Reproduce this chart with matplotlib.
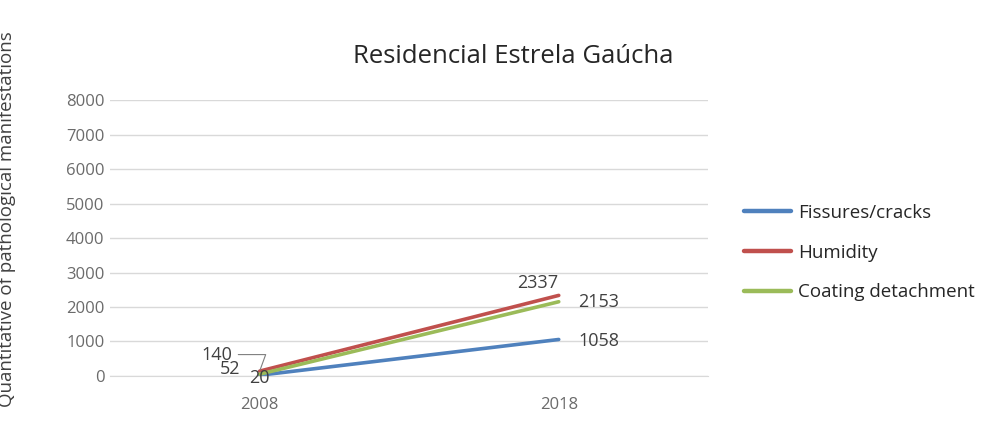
import numpy as np
import matplotlib
matplotlib.use("Agg")
import matplotlib.pyplot as plt

years = ["2008", "2018"]
fissures = [20, 1058]
humidity = [140, 2337]
coating = [52, 2153]
series_names = ["Fissures/cracks", "Humidity", "Coating detachment"]
colors = ["#4F81BD", "#C0504D", "#9BBB59"]
yticks = [0, 1000, 2000, 3000, 4000, 5000, 6000, 7000, 8000]

plt.rcParams['font.family'] = ['Open Sans', 'DejaVu Sans']

fig = plt.figure(figsize=(9.92, 4.21), dpi=100)
ax = fig.add_axes([0.111, 0.107, 0.603, 0.655])

x = np.arange(len(years))
for vals, name, c in zip([fissures, humidity, coating], series_names, colors):
    ax.plot(x, vals, color=c, lw=2.6, label=name, solid_capstyle='round')

ax.set_xlim(-0.5, 1.5)
ax.set_ylim(0, 8000)
ax.set_yticks(yticks)
ax.set_xticks(x)
ax.set_xticklabels(years)
ax.tick_params(axis='both', length=0, labelsize=12, labelcolor='#6b6b6b')
ax.tick_params(axis='y', pad=4)
ax.tick_params(axis='x', pad=15)
ax.grid(axis='y', color='#d9d9d9', lw=1)
ax.set_axisbelow(True)
for s in ['top', 'right', 'left']:
    ax.spines[s].set_visible(False)
ax.spines['bottom'].set_color('#d9d9d9')

ax.set_ylabel("Quantitative of pathological manifestations", fontsize=13.5,
              color='#404040')
ax.yaxis.set_label_coords(-0.157, 0.57)

fig.text(0.517, 0.865, "Residencial Estrela Gaúcha", ha='center', va='center',
         fontsize=18.5, color='#262626')

# value labels
lab = dict(fontsize=13, color='#404040', va='center')
ax.annotate(str(humidity[0]), xy=(x[0], humidity[0]), xytext=(-0.09, 620),
            ha='right', arrowprops=dict(arrowstyle='-', color='#7f7f7f', lw=0.8,
                                         shrinkA=2, shrinkB=1,
                                         connectionstyle='angle,angleA=0,angleB=70,rad=0'),
            **lab)
ax.text(-0.065, 215, str(coating[0]), ha='right', **lab)
ax.text(-0.035, -60, str(fissures[0]), ha='left', **lab)
ax.text(0.93, 2700, str(humidity[1]), ha='center', **lab)
ax.text(1.065, 2145, str(coating[1]), ha='left', **lab)
ax.text(1.065, 1015, str(fissures[1]), ha='left', **lab)

leg = fig.legend(loc='center left', bbox_to_anchor=(0.733, 0.4), frameon=False,
                 fontsize=13.5, handlelength=2.5, labelspacing=1.15, handletextpad=0.4)
for line in leg.get_lines():
    line.set_linewidth(3.2)
for t in leg.get_texts():
    t.set_color('#262626')

fig.savefig("out.png", dpi=100)
